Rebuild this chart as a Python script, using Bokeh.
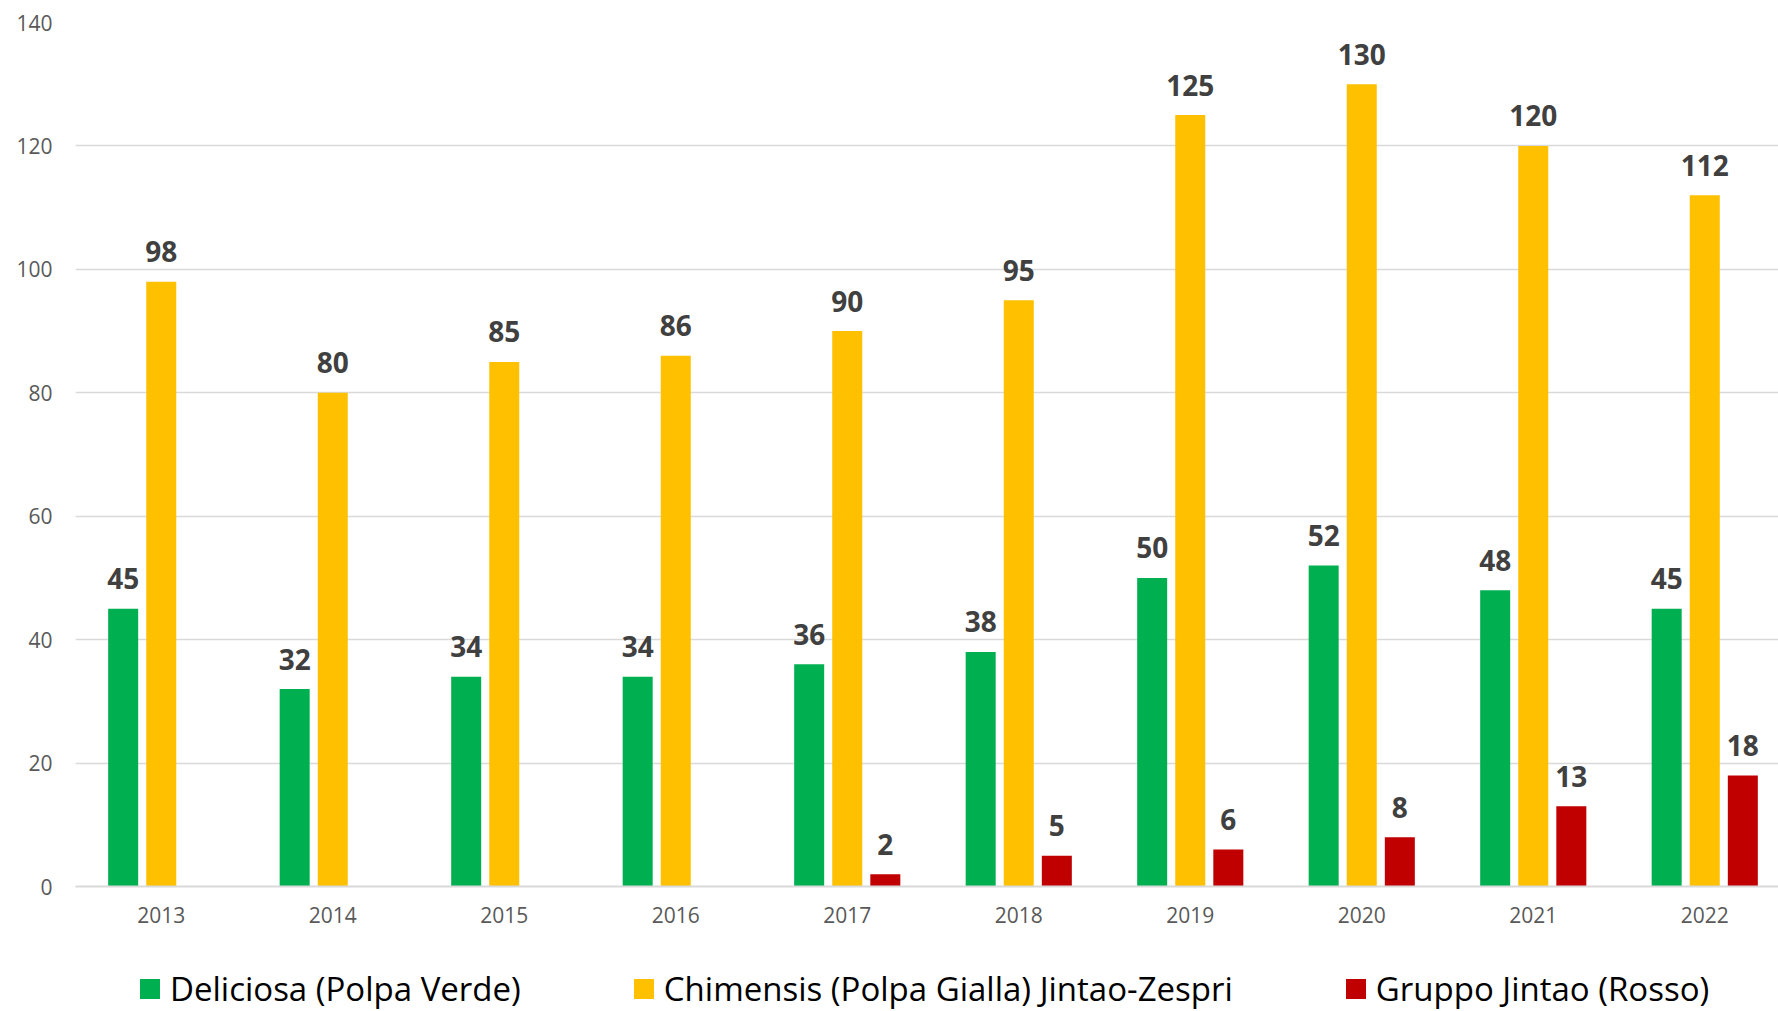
from bokeh.plotting import figure
from bokeh.models import Range1d, FixedTicker, Legend, LegendItem, ColumnDataSource
from bokeh.layouts import column
from bokeh.core.properties import value
from bokeh.embed import file_html
from bokeh.resources import INLINE

years = ["2013", "2014", "2015", "2016", "2017", "2018", "2019", "2020", "2021", "2022"]
deliciosa = [45, 32, 34, 34, 36, 38, 50, 52, 48, 45]
chimensis = [98, 80, 85, 86, 90, 95, 125, 130, 120, 112]
rosso = [None, None, None, None, 2, 5, 6, 8, 13, 18]
series_names = ["Deliciosa (Polpa Verde)", "Chimensis (Polpa Gialla) Jintao-Zespri", "Gruppo Jintao (Rosso)"]
series_colors = ["#00B050", "#FFC000", "#C00000"]
y_ticks = [0, 20, 40, 60, 80, 100, 120, 140]

FONT = "Open Sans"
BAR_W = 0.175
OFFS = [-0.222, 0.0, 0.222]
W = 1778
H1 = 964
H2 = 47

p = figure(width=W, height=H1, output_backend="svg", toolbar_location=None,
           x_range=Range1d(0, 9.93), y_range=Range1d(0, 140),
           min_border_left=75, min_border_right=0, min_border_top=22, min_border_bottom=H1 - 886)
p.outline_line_color = None
p.background_fill_color = "white"
p.border_fill_color = "white"

p.yaxis.ticker = FixedTicker(ticks=y_ticks)
p.yaxis.axis_line_color = None
p.yaxis.major_tick_line_color = None
p.yaxis.major_tick_out = 0
p.yaxis.major_tick_in = 0
p.yaxis.minor_tick_line_color = None
p.yaxis.major_label_text_font = FONT
p.yaxis.major_label_text_font_size = "21px"
p.yaxis.major_label_text_color = "#595959"
p.yaxis.major_label_standoff = 23

centers = [i + 0.5 for i in range(len(years))]
p.xaxis.ticker = FixedTicker(ticks=centers)
p.xaxis.major_label_overrides = {c: y for c, y in zip(centers, years)}
p.xaxis.axis_line_color = "#D9D9D9"
p.xaxis.axis_line_width = 2
p.xaxis.major_tick_line_color = None
p.xaxis.major_tick_out = 0
p.xaxis.major_tick_in = 0
p.xaxis.minor_tick_line_color = None
p.xaxis.major_label_text_font = FONT
p.xaxis.major_label_text_font_size = "21px"
p.xaxis.major_label_text_color = "#595959"
p.xaxis.major_label_standoff = 20

p.xgrid.grid_line_color = None
p.ygrid.grid_line_color = "#D9D9D9"
p.ygrid.grid_line_width = 1.5

# legend strip below the chart (its frame is aligned with the chart's frame)
q = figure(width=W, height=H2, output_backend="svg", toolbar_location=None,
           x_range=Range1d(0, 1), y_range=Range1d(0, 1),
           x_axis_location=None, y_axis_location=None, min_border=0)
q.outline_line_color = None
q.xgrid.grid_line_color = None
q.ygrid.grid_line_color = None
q.background_fill_color = "white"
q.border_fill_color = "white"

items = []
for k, (vals, name, col) in enumerate(zip([deliciosa, chimensis, rosso], series_names, series_colors)):
    xs = [c + OFFS[k] for c, v in zip(centers, vals) if v is not None]
    ys = [v for v in vals if v is not None]
    src = ColumnDataSource(dict(x=xs, top=ys, lab=[str(v) for v in ys]))
    p.vbar(x="x", top="top", width=BAR_W, bottom=0, source=src,
           fill_color=col, line_color=None)
    p.text(x="x", y="top", text="lab", source=src, text_font=value(FONT),
           text_font_style="bold", text_font_size="28px", text_color="#404040",
           text_align="center", text_baseline="alphabetic", y_offset=-30)
    sw = q.vbar(x="x", top="top", width=BAR_W, bottom=0, source=src,
                fill_color=col, line_color=None, visible=False)
    items.append(LegendItem(label=name, renderers=[sw]))

legend = Legend(items=items, orientation="horizontal", location=(62, 0),
                padding=0, margin=0, spacing=110, label_standoff=8,
                glyph_width=25, glyph_height=25,
                label_text_font=FONT, label_text_font_size="33px",
                label_text_color="#000000",
                border_line_color=None, background_fill_alpha=0)
q.add_layout(legend, "center")

open("out.html", "w").write(file_html(column(p, q, spacing=0), INLINE))
